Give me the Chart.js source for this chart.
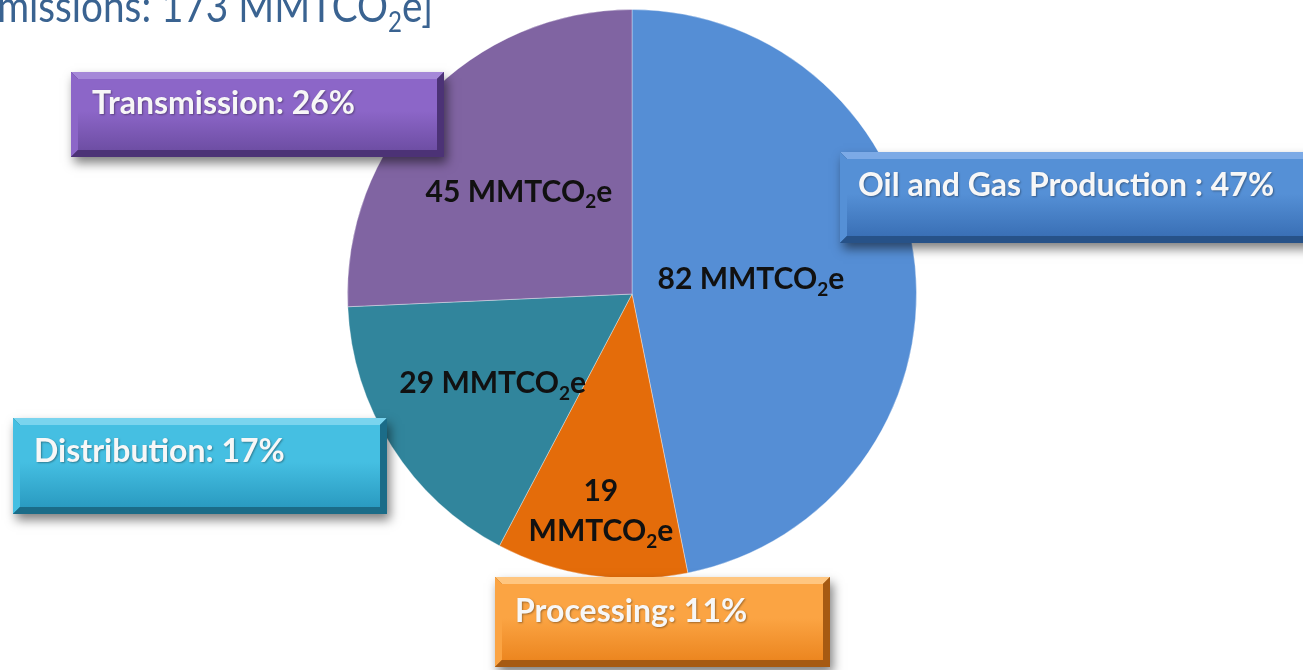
<!DOCTYPE html>
<html>
<head>
<meta charset="utf-8">
<script src="https://cdn.jsdelivr.net/npm/chart.js@4.4.1/dist/chart.umd.min.js"></script>
<style>
  html, body { margin: 0; padding: 0; background: #fff; overflow: hidden; }
  #wrap { position: relative; width: 1303px; height: 670px; }
</style>
</head>
<body>
<div id="wrap"><canvas id="chart"></canvas></div>
<script>
// data
const categories = ['Oil and Gas Production', 'Processing', 'Distribution', 'Transmission'];
const emissions = [82, 19, 29, 45];          // MMTCO2e
const shares = [47, 11, 17, 26];             // % of total
const totalEmissions = 173;
const unitMain = 'MMTCO';
const unitSub = '2';
const unitTail = 'e';
const sliceColors = ['#558ED5', '#E46C0A', '#31859C', '#8064A2'];

// callout boxes, same order as categories
const boxes = [
  { x: 840, y: 152, w: 475, h: 91, sep: ' : ', tx: 858, ty: 196,
    face: ['#5590D6', '#3A70B6'], light: '#7CAAE6', dark: '#275288' },
  { x: 495, y: 577, w: 335, h: 90, sep: ': ', tx: 515, ty: 622,
    face: ['#FBA443', '#EC8620'], light: '#FFC680', dark: '#A65A12' },
  { x: 13, y: 418, w: 374, h: 96, sep: ': ', tx: 34, ty: 462,
    face: ['#45BFE2', '#2A9BC1'], light: '#7AD4EE', dark: '#1B6C88' },
  { x: 71, y: 72, w: 373, h: 85, sep: ': ', tx: 92, ty: 114,
    face: ['#8C66C8', '#6E4EA4'], light: '#A588D8', dark: '#4C3276' }
];

// where the value label sits along each slice's mid-angle (fraction of radius)
const labelSpots = [
  { f: 0.42, split: false, dy: -4 },
  { f: 0.765, split: true, dy: 0 },
  { f: 0.58, split: false, dy: 0 },
  { f: 0.55, split: false, dy: 5 }
];

const FONT = 'Lato, "Open Sans", sans-serif';

// draw "NN MMTCO2e" with a subscript 2, centred on cx
function chemWidth(ctx, main, size) {
  ctx.font = 'bold ' + size + 'px ' + FONT;
  const a = ctx.measureText(main).width;
  const c = ctx.measureText(unitTail).width;
  ctx.font = 'bold ' + Math.round(size * 0.62) + 'px ' + FONT;
  const b = ctx.measureText(unitSub).width;
  return a + b + c;
}
function drawChem(ctx, main, x, y, size, align) {
  const w = chemWidth(ctx, main, size);
  let cx = align === 'center' ? x - w / 2 : x;
  ctx.textAlign = 'left';
  ctx.textBaseline = 'alphabetic';
  ctx.font = 'bold ' + size + 'px ' + FONT;
  ctx.fillText(main, cx, y);
  cx += ctx.measureText(main).width;
  ctx.font = 'bold ' + Math.round(size * 0.62) + 'px ' + FONT;
  ctx.fillText(unitSub, cx, y + size * 0.22);
  cx += ctx.measureText(unitSub).width;
  ctx.font = 'bold ' + size + 'px ' + FONT;
  ctx.fillText(unitTail, cx, y);
}

function poly(ctx, pts, color) {
  ctx.beginPath();
  ctx.moveTo(pts[0][0], pts[0][1]);
  for (let i = 1; i < pts.length; i++) ctx.lineTo(pts[i][0], pts[i][1]);
  ctx.closePath();
  ctx.fillStyle = color;
  ctx.fill();
}

function bevelBox(ctx, b) {
  const { x, y, w, h } = b;
  const e = 7;
  ctx.save();
  ctx.shadowColor = 'rgba(0,0,0,0.5)';
  ctx.shadowBlur = 10;
  ctx.shadowOffsetX = 3;
  ctx.shadowOffsetY = 6;
  ctx.fillStyle = b.dark;
  ctx.fillRect(x, y, w, h);
  ctx.restore();
  poly(ctx, [[x, y], [x + w, y], [x + w - e, y + e], [x + e, y + e]], b.light);
  poly(ctx, [[x, y], [x + e, y + e], [x + e, y + h - e], [x, y + h]], b.face[0]);
  poly(ctx, [[x + w, y], [x + w, y + h], [x + w - e, y + h - e], [x + w - e, y + e]], b.dark);
  poly(ctx, [[x, y + h], [x + e, y + h - e], [x + w - e, y + h - e], [x + w, y + h]], b.dark);
  const g = ctx.createLinearGradient(0, y + e, 0, y + h - e);
  g.addColorStop(0, b.face[0]);
  g.addColorStop(0.45, b.face[0]);
  g.addColorStop(1, b.face[1]);
  ctx.fillStyle = g;
  ctx.fillRect(x + e, y + e, w - 2 * e, h - 2 * e);
}

const calloutPlugin = {
  id: 'callouts',
  afterDatasetsDraw(chart) {
    const ctx = chart.ctx;
    const meta = chart.getDatasetMeta(0);

    // title line, cut off at the left edge as in the slide (narrowed to mimic Calibri)
    ctx.save();
    ctx.fillStyle = '#3A6391';
    ctx.textAlign = 'right';
    ctx.textBaseline = 'alphabetic';
    const squeeze = 0.86;
    ctx.scale(squeeze, 1);
    const tail = ']';
    const subFont = '28px ' + FONT;
    const bigFont = '45px ' + FONT;
    ctx.font = bigFont;
    const tailW = ctx.measureText(unitTail + tail).width;
    ctx.font = subFont;
    const subW = ctx.measureText(unitSub).width;
    let right = 433 / squeeze;
    ctx.font = bigFont;
    ctx.fillText(unitTail + tail, right, 22);
    right -= tailW;
    ctx.font = subFont;
    ctx.fillText(unitSub, right, 32);
    right -= subW;
    ctx.font = bigFont;
    ctx.fillText('[Total Emissions: ' + totalEmissions + ' ' + unitMain, right, 22);
    ctx.restore();

    // value labels inside the slices
    ctx.save();
    ctx.fillStyle = '#111';
    meta.data.forEach((arc, i) => {
      const p = arc.getProps(['x', 'y', 'startAngle', 'endAngle', 'outerRadius'], true);
      const mid = (p.startAngle + p.endAngle) / 2;
      const r = p.outerRadius * labelSpots[i].f;
      const cx = p.x + Math.cos(mid) * r;
      const cy = p.y + Math.sin(mid) * r + labelSpots[i].dy;
      const size = 30;
      if (labelSpots[i].split) {
        ctx.font = 'bold ' + size + 'px ' + FONT;
        ctx.textAlign = 'center';
        ctx.fillText(String(emissions[i]), cx, cy - 8);
        drawChem(ctx, unitMain, cx, cy + 32, size, 'center');
      } else {
        drawChem(ctx, emissions[i] + ' ' + unitMain, cx, cy + 11, size, 'center');
      }
    });
    ctx.restore();

    // bevelled callout boxes
    boxes.forEach((b, i) => {
      ctx.save();
      bevelBox(ctx, b);
      ctx.font = 'bold 32px ' + FONT;
      ctx.textAlign = 'left';
      ctx.textBaseline = 'alphabetic';
      ctx.shadowColor = 'rgba(0,0,0,0.35)';
      ctx.shadowBlur = 2;
      ctx.shadowOffsetX = 1;
      ctx.shadowOffsetY = 1;
      ctx.fillStyle = '#F7F7F7';
      ctx.fillText(categories[i] + b.sep + shares[i] + '%', b.tx, b.ty);
      ctx.restore();
    });
  }
};

new Chart(document.getElementById('chart'), {
  type: 'pie',
  data: {
    labels: categories,
    datasets: [{
      data: emissions,
      backgroundColor: sliceColors,
      borderColor: 'rgba(255,255,255,0.35)',
      borderWidth: 1
    }]
  },
  options: {
    responsive: true,
    maintainAspectRatio: false,
    animation: false,
    rotation: 0,
    layout: { padding: { top: 9, bottom: 91, left: 347, right: 386 } },
    plugins: {
      legend: { display: false },
      tooltip: { enabled: false },
      title: { display: false }
    }
  },
  plugins: [calloutPlugin]
});
</script>
</body>
</html>
